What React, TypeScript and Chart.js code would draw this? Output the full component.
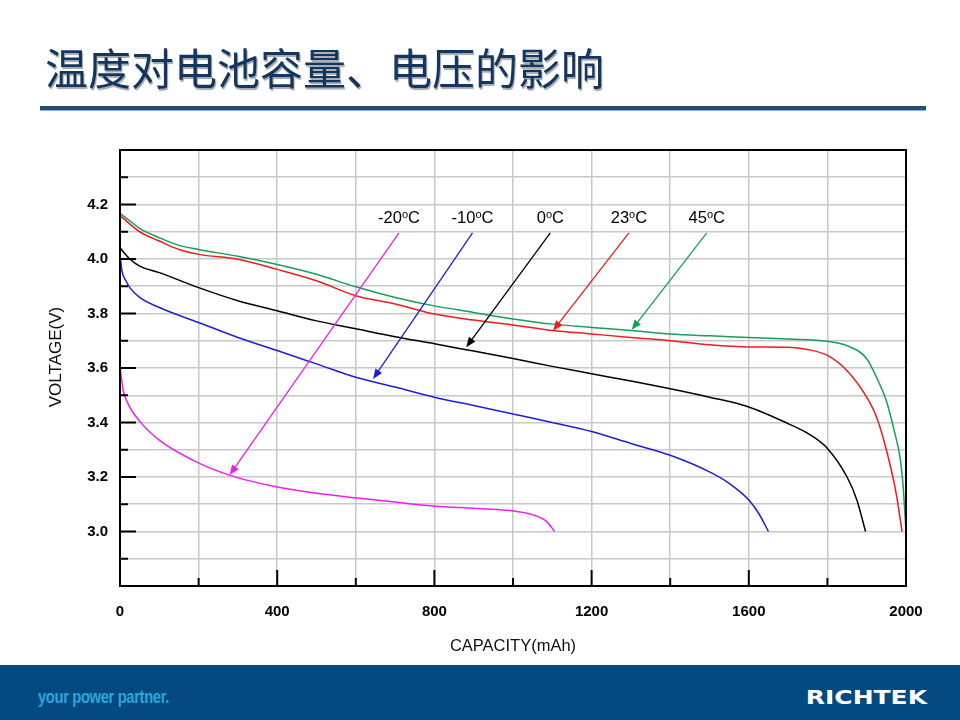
import { useEffect, useRef } from 'react';
import { Chart, registerables } from 'chart.js';

Chart.register(...registerables);

// discharge curves: capacity (mAh) vs voltage (V)
const cap45 = [0, 25, 50, 100, 150, 200, 300, 400, 500, 600, 700, 800, 900, 1000, 1100, 1200, 1300, 1400, 1500, 1600, 1700, 1800, 1850, 1900, 1930, 1950, 1970, 1985, 1993, 2000];
const volt45 = [4.168, 4.14, 4.112, 4.078, 4.05, 4.035, 4.01, 3.98, 3.944, 3.898, 3.859, 3.828, 3.804, 3.78, 3.761, 3.749, 3.738, 3.725, 3.718, 3.712, 3.706, 3.698, 3.682, 3.634, 3.55, 3.48, 3.37, 3.27, 3.16, 3.0];

const cap23 = [0, 50, 100, 150, 200, 300, 400, 500, 600, 700, 800, 900, 1000, 1100, 1200, 1300, 1400, 1500, 1600, 1700, 1750, 1800, 1850, 1900, 1925, 1950, 1975, 1990];
const volt23 = [4.16, 4.1, 4.066, 4.035, 4.017, 3.999, 3.962, 3.92, 3.865, 3.835, 3.798, 3.776, 3.758, 3.738, 3.725, 3.712, 3.7, 3.685, 3.677, 3.676, 3.668, 3.646, 3.59, 3.493, 3.42, 3.3, 3.14, 3.0];

const cap0 = [0, 25, 50, 100, 200, 300, 400, 500, 600, 700, 800, 900, 1000, 1100, 1200, 1300, 1400, 1500, 1600, 1700, 1750, 1800, 1850, 1875, 1897];
const volt0 = [4.041, 4.0, 3.974, 3.95, 3.895, 3.847, 3.81, 3.773, 3.744, 3.715, 3.689, 3.662, 3.635, 3.606, 3.579, 3.552, 3.524, 3.493, 3.457, 3.396, 3.36, 3.305, 3.2, 3.116, 3.0];

const capM10 = [0, 5, 15, 25, 50, 100, 200, 300, 400, 500, 600, 700, 800, 900, 1000, 1100, 1200, 1300, 1400, 1500, 1550, 1600, 1625, 1650];
const voltM10 = [4.017, 3.956, 3.92, 3.895, 3.859, 3.822, 3.767, 3.712, 3.664, 3.615, 3.566, 3.53, 3.493, 3.462, 3.431, 3.4, 3.367, 3.323, 3.28, 3.219, 3.177, 3.116, 3.067, 3.0];

const capM20 = [0, 8, 20, 50, 100, 185, 278, 397, 500, 610, 700, 796, 900, 992, 1051, 1085, 1106];
const voltM20 = [3.603, 3.52, 3.47, 3.405, 3.335, 3.262, 3.207, 3.164, 3.14, 3.122, 3.108, 3.094, 3.085, 3.077, 3.061, 3.037, 3.0];

const temps = ['-20', '-10', '0', '23', '45'];
const colors = ['#f01cf0', '#1e1ed8', '#000000', '#ee1c1c', '#14a05a'];
const caps = [capM20, capM10, cap0, cap23, cap45];
const volts = [voltM20, voltM10, volt0, volt23, volt45];

// annotation arrows (label -> curve)
const arrowFromCap = [710, 897, 1095, 1295, 1493];
const arrowFromVolt = 4.096;
const arrowToCap = [279, 644, 881, 1102, 1302];
const arrowToVolt = [3.207, 3.56, 3.676, 3.737, 3.74];
const labelVolt = 4.157;

const xTitle = 'CAPACITY(mAh)';
const yTitle = 'VOLTAGE(V)';

const overlay = {
  id: 'overlay',
  afterDraw(chart: Chart) {
    const { ctx, chartArea: a } = chart;
    const x = chart.scales.x;
    const y = chart.scales.y;
    ctx.save();

    // inward tick marks
    ctx.strokeStyle = '#000';
    ctx.lineWidth = 2;
    x.ticks.forEach((t) => {
      if (t.value <= x.min || t.value >= x.max) return;
      const px = x.getPixelForValue(t.value);
      const len = Math.round(t.value) % 400 === 0 ? 16 : 8;
      ctx.beginPath();
      ctx.moveTo(px, a.bottom);
      ctx.lineTo(px, a.bottom - len);
      ctx.stroke();
    });
    y.ticks.forEach((t) => {
      if (t.value <= y.min + 1e-6 || t.value >= y.max - 1e-6) return;
      const py = y.getPixelForValue(t.value);
      const len = Math.round(t.value * 10) % 2 === 0 ? 16 : 8;
      ctx.beginPath();
      ctx.moveTo(a.left, py);
      ctx.lineTo(a.left + len, py);
      ctx.stroke();
    });

    // frame
    ctx.strokeRect(a.left, a.top, a.right - a.left, a.bottom - a.top);

    // arrows and temperature labels
    temps.forEach((tmp, i) => {
      const x0 = x.getPixelForValue(arrowFromCap[i]);
      const y0 = y.getPixelForValue(arrowFromVolt);
      const x1 = x.getPixelForValue(arrowToCap[i]);
      const y1 = y.getPixelForValue(arrowToVolt[i]);
      const ang = Math.atan2(y1 - y0, x1 - x0);
      ctx.strokeStyle = colors[i];
      ctx.fillStyle = colors[i];
      ctx.lineWidth = 1.3;
      ctx.beginPath();
      ctx.moveTo(x0, y0);
      ctx.lineTo(x1 - Math.cos(ang) * 6, y1 - Math.sin(ang) * 6);
      ctx.stroke();
      const L = 10, W = 4;
      ctx.beginPath();
      ctx.moveTo(x1, y1);
      ctx.lineTo(x1 - L * Math.cos(ang) + W * Math.sin(ang), y1 - L * Math.sin(ang) - W * Math.cos(ang));
      ctx.lineTo(x1 - L * Math.cos(ang) - W * Math.sin(ang), y1 - L * Math.sin(ang) + W * Math.cos(ang));
      ctx.closePath();
      ctx.fill();

      // label "-20ºC" with raised small o
      const big = '16.5px "Liberation Sans", Arial, sans-serif';
      const small = '11px "Liberation Sans", Arial, sans-serif';
      ctx.fillStyle = '#000';
      ctx.textBaseline = 'alphabetic';
      ctx.textAlign = 'left';
      ctx.font = big;
      const w1 = ctx.measureText(tmp).width;
      const wc = ctx.measureText('C').width;
      ctx.font = small;
      const wo = ctx.measureText('o').width;
      const total = w1 + wo + wc;
      const lx = x0 - total / 2;
      const ly = y.getPixelForValue(labelVolt) + 6.5;
      ctx.font = big;
      ctx.fillText(tmp, lx, ly);
      ctx.font = small;
      ctx.fillText('o', lx + w1, ly - 5);
      ctx.font = big;
      ctx.fillText('C', lx + w1 + wo, ly);
    });

    // axis titles
    ctx.fillStyle = '#111';
    ctx.font = '16.5px "Liberation Sans", Arial, sans-serif';
    ctx.textAlign = 'center';
    ctx.textBaseline = 'middle';
    ctx.fillText(xTitle, (a.left + a.right) / 2, a.bottom + 60);
    ctx.font = '17px "Liberation Sans", Arial, sans-serif';
    ctx.translate(a.left - 64, (a.top + a.bottom) / 2 - 11);
    ctx.rotate(-Math.PI / 2);
    ctx.fillText(yTitle, 0, 0);

    ctx.restore();
  },
};

function BatteryChart() {
  const canvasRef = useRef<HTMLCanvasElement>(null);
  const chartRef = useRef<Chart | null>(null);

  useEffect(() => {
    if (!canvasRef.current) return;
    const ctx = canvasRef.current.getContext('2d');
    if (!ctx) return;

    chartRef.current?.destroy();
    chartRef.current = new Chart(ctx, {
      type: 'line',
      data: {
        datasets: temps.map((t, i) => ({
          label: `${t}°C`,
          data: caps[i].map((c, j) => ({ x: c, y: volts[i][j] })),
          borderColor: colors[i],
          borderWidth: 1.5,
          pointRadius: 0,
          fill: false,
          cubicInterpolationMode: 'monotone' as const,
        })),
      },
      options: {
        responsive: false,
        animation: false,
        layout: { padding: { left: 0, top: 150, right: 54, bottom: 94 } },
        plugins: { legend: { display: false }, tooltip: { enabled: false } },
        scales: {
          x: {
            type: 'linear',
            min: 0,
            max: 2000,
            afterFit: (s: any) => { s.height = 40; },
            ticks: {
              stepSize: 200,
              padding: 17,
              color: '#000',
              maxRotation: 0,
              autoSkip: false,
              font: { family: '"Liberation Sans", Arial, sans-serif', size: 15, weight: 'bold' },
              callback: (v: any) => (Math.round(v) % 400 === 0 ? String(Math.round(v)) : ''),
            },
            grid: { color: '#c8c8c8', lineWidth: 1.5, drawTicks: false },
            border: { display: false },
          },
          y: {
            type: 'linear',
            min: 2.8,
            max: 4.4,
            afterFit: (s: any) => { s.width = 120; },
            ticks: {
              stepSize: 0.1,
              padding: 12,
              color: '#000',
              autoSkip: false,
              font: { family: '"Liberation Sans", Arial, sans-serif', size: 15, weight: 'bold' },
              callback: (v: any) => {
                const k = Math.round(v * 10);
                return k % 2 === 0 && k >= 30 && k <= 42 ? (k / 10).toFixed(1) : '';
              },
            },
            grid: { color: '#c8c8c8', lineWidth: 1.5, drawTicks: false },
            border: { display: false },
          },
        },
      },
      plugins: [overlay],
    });

    return () => { chartRef.current?.destroy(); };
  }, []);

  return <canvas ref={canvasRef} width={960} height={720} style={{ position: 'absolute', left: 0, top: 0, width: 960, height: 720 }} />;
}

export default function App() {
  return (
    <div style={{ position: 'absolute', left: 0, top: 0, width: 960, height: 720, background: '#fff', overflow: 'hidden' }}>
      <BatteryChart />
      <div
        style={{
          position: 'absolute', left: 45, top: 40, fontSize: 43, lineHeight: '52px',
          fontFamily: '"Noto Sans CJK SC", sans-serif', color: '#12365f', whiteSpace: 'nowrap',
          textShadow: '1px 2px 1px rgba(0,0,0,0.35)',
        }}
      >
        温度对电池容量、电压的影响
      </div>
      <div style={{ position: 'absolute', left: 40, top: 106, width: 886, height: 4, background: '#1f4d7c', boxShadow: '0 1px 0 #8fb2d6' }} />
      <div style={{ position: 'absolute', left: 0, top: 665, width: 960, height: 55, background: '#04497f' }}>
        <div
          style={{
            position: 'absolute', left: 38, top: 0, lineHeight: '64px', fontSize: 19, fontWeight: 'bold',
            fontFamily: '"Liberation Sans Narrow", "Liberation Sans", sans-serif', color: '#2aa6dd', letterSpacing: -0.5,
            transform: 'scaleX(0.78)', transformOrigin: 'left center', whiteSpace: 'nowrap',
          }}
        >
          your power partner.
        </div>
        <div
          style={{
            position: 'absolute', right: 33, top: 0, lineHeight: '64px', fontSize: 20, fontWeight: 'bold',
            fontFamily: '"DejaVu Sans", sans-serif', color: '#fff', transform: 'scaleX(1.25)', transformOrigin: 'right center',
          }}
        >
          RICHTEK
        </div>
      </div>
    </div>
  );
}
